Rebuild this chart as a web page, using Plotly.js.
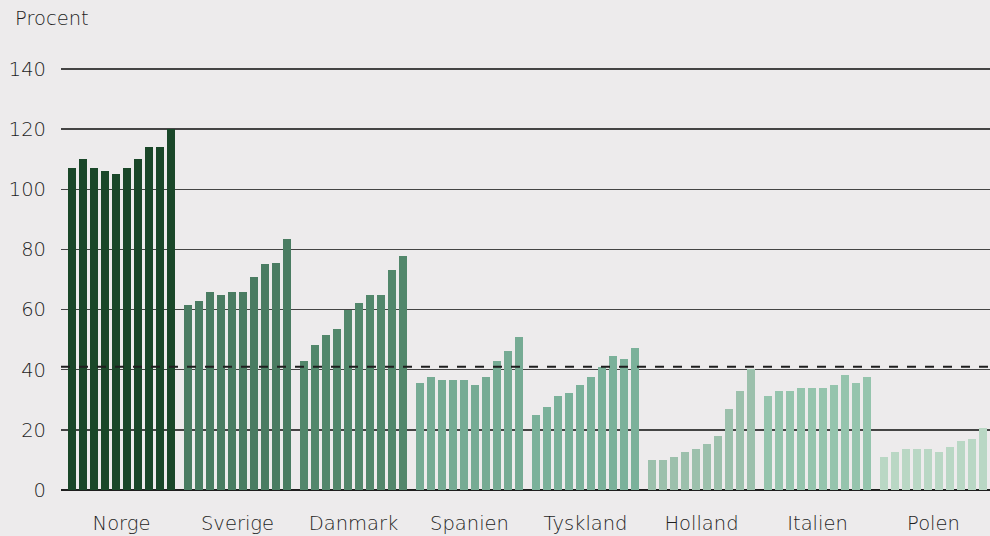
<!DOCTYPE html>
<html><head><meta charset="utf-8">
<script src="https://cdn.plot.ly/plotly-3.0.1.min.js"></script>
<style>html,body{margin:0;padding:0;background:#edebec;}</style>
</head><body>
<div id="chart" style="width:990px;height:536px;"></div>
<script>
const countries = ["Norge","Sverige","Danmark","Spanien","Tyskland","Holland","Italien","Polen"];
const norge    = [107,110,107,106,105,107,110,114,114,120];
const sverige  = [61.5,63,66,65,66,66,71,75,75.5,83.5];
const danmark  = [43,48.3,51.7,53.7,59.7,62.3,65,65,73,77.7];
const spanien  = [35.7,37.7,36.7,36.7,36.7,35,37.7,43,46.3,51];
const tyskland = [25,27.7,31.3,32.3,35,37.7,41,44.7,43.7,47.3];
const holland  = [10,10,11,12.7,13.7,15.3,18,27,33,40.3];
const italien  = [31.3,33,33,34,34,34,35,38.3,35.7,37.7];
const polen    = [11,12.7,13.7,13.7,13.7,12.7,14.3,16.3,17,20.7];
const reference = 41;
const colors = ["#1a4729","#4a7c62","#52876b","#76ab94","#7bb19a","#9cc0ac","#95c4ad","#b9d7c4"];

const series = [norge,sverige,danmark,spanien,tyskland,holland,italien,polen];
const groupPitch = 116, barPitch = 11, offset = 11;
const traces = series.map((vals,g)=>({
  type:'bar',
  x: vals.map((v,i)=> offset + g*groupPitch + i*barPitch),
  y: vals,
  width: 8,
  marker:{color: colors[g]},
  hoverinfo:'y',
  showlegend:false
}));
const tickvals = countries.map((c,g)=> offset + g*groupPitch + 4.5*barPitch);

const fam = '"DejaVu Sans", "Open Sans", sans-serif';
const tf = {family:fam, size:19.5, color:'#1e1e1e', weight:200};
const layout = {
  width:990, height:536,
  paper_bgcolor:'#edebec', plot_bgcolor:'#edebec',
  margin:{l:61, r:0, t:66, b:46},
  font:tf,
  xaxis:{range:[0,929], tickvals:tickvals, ticktext:countries, showgrid:false, zeroline:false,
         showline:false, ticks:'', ticklabelstandoff:19, tickfont:tf, fixedrange:true},
  yaxis:{range:[0,141], tickvals:[0,20,40,60,80,100,120,140], showgrid:true, gridcolor:'#444', gridwidth:1.5,
         zeroline:true, zerolinecolor:'#1e1e1e', zerolinewidth:2, showline:false, ticks:'',
         ticklabelstandoff:14, tickfont:tf, fixedrange:true},
  bargap:0,
  shapes:[{type:'line', xref:'paper', x0:0, x1:1, yref:'y', y0:reference, y1:reference,
           line:{color:'#1e1e1e', width:2, dash:'dash'}, layer:'above'}],
  annotations:[{text:'Procent', xref:'paper', yref:'paper', x:-0.052, y:1, yshift:48,
                xanchor:'left', yanchor:'middle', showarrow:false, font:tf}]
};
Plotly.newPlot('chart', traces, layout, {displayModeBar:false, staticPlot:true});
</script>
</body></html>
